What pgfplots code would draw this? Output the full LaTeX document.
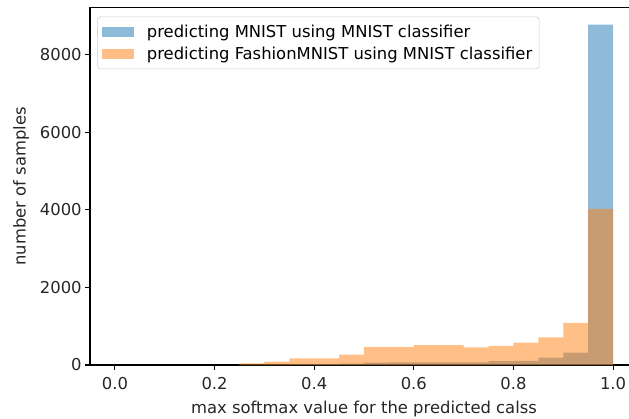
\documentclass[border=0pt]{standalone}
\usepackage{fontspec}
\setmainfont{DejaVu Sans}
\usepackage{pgfplots}
\pgfplotsset{compat=1.18}
\definecolor{mplblue}{HTML}{1F77B4}
\definecolor{mplorange}{HTML}{FF7F0E}
\begin{document}
\begin{tikzpicture}
\begin{axis}[
  scale only axis,
  width=394.56pt, height=257.4pt,
  xmin=-0.05, xmax=1.05,
  ymin=0, ymax=9219,
  axis line style={line width=0.8pt},
  tick align=outside,
  major tick length=3.5pt,
  every tick/.style={black, line width=0.8pt},
  xtick={0,0.2,0.4,0.6,0.8,1.0},
  ytick={0,2000,4000,6000,8000},
  xtick pos=bottom, ytick pos=left,
  scaled ticks=false,
  xticklabel style={/pgf/number format/fixed, /pgf/number format/precision=1, /pgf/number format/fixed zerofill, yshift=-2pt},
  yticklabel style={/pgf/number format/1000 sep={}, xshift=1pt},
  /pgf/number format/assume math mode=true,
  tick label style={font=\fontsize{11.8}{14}\selectfont, text=black!85},
  label style={font=\fontsize{11.8}{14}\selectfont, text=black!85},
  xlabel={max softmax value for the predicted calss},
  xlabel style={yshift=-1pt},
  ylabel={number of samples},
  ylabel style={yshift=1pt},
  legend cell align=left,
  legend style={at={(axis description cs:0,1)}, anchor=north west, xshift=5.3pt, yshift=-6.6pt,
    draw=black!20, rounded corners=2pt, font=\fontsize{11.8}{14}\selectfont,
    inner xsep=3pt, inner ysep=3.5pt, row sep=1.5pt,
    /tikz/every odd column/.style={column sep=7pt},
    /tikz/every even column/.style={column sep=0pt}},
  legend image code/.code={\fill[#1, sharp corners] (-2pt,-3.5pt) rectangle (21.5pt,3.5pt);},
]
\addplot[ybar interval, fill=mplblue, fill opacity=0.5, draw=none] table {
x y
0.25 5
0.30 10
0.35 18
0.40 25
0.45 35
0.50 60
0.55 65
0.60 65
0.65 70
0.70 70
0.75 100
0.80 105
0.85 190
0.90 320
0.95 8780
1.00 8780
};
\addlegendentry{predicting MNIST using MNIST classifier}
\addplot[ybar interval, fill=mplorange, fill opacity=0.5, draw=none] table {
x y
0.25 45
0.30 85
0.35 170
0.40 170
0.45 265
0.50 470
0.55 470
0.60 510
0.65 510
0.70 455
0.75 495
0.80 580
0.85 710
0.90 1085
0.95 4025
1.00 4025
};
\addlegendentry{predicting FashionMNIST using MNIST classifier}
\end{axis}
\pgfresetboundingbox
\useasboundingbox (-64.8pt,-38.16pt) rectangle (388.08pt,262.8pt);
\end{tikzpicture}
\end{document}
